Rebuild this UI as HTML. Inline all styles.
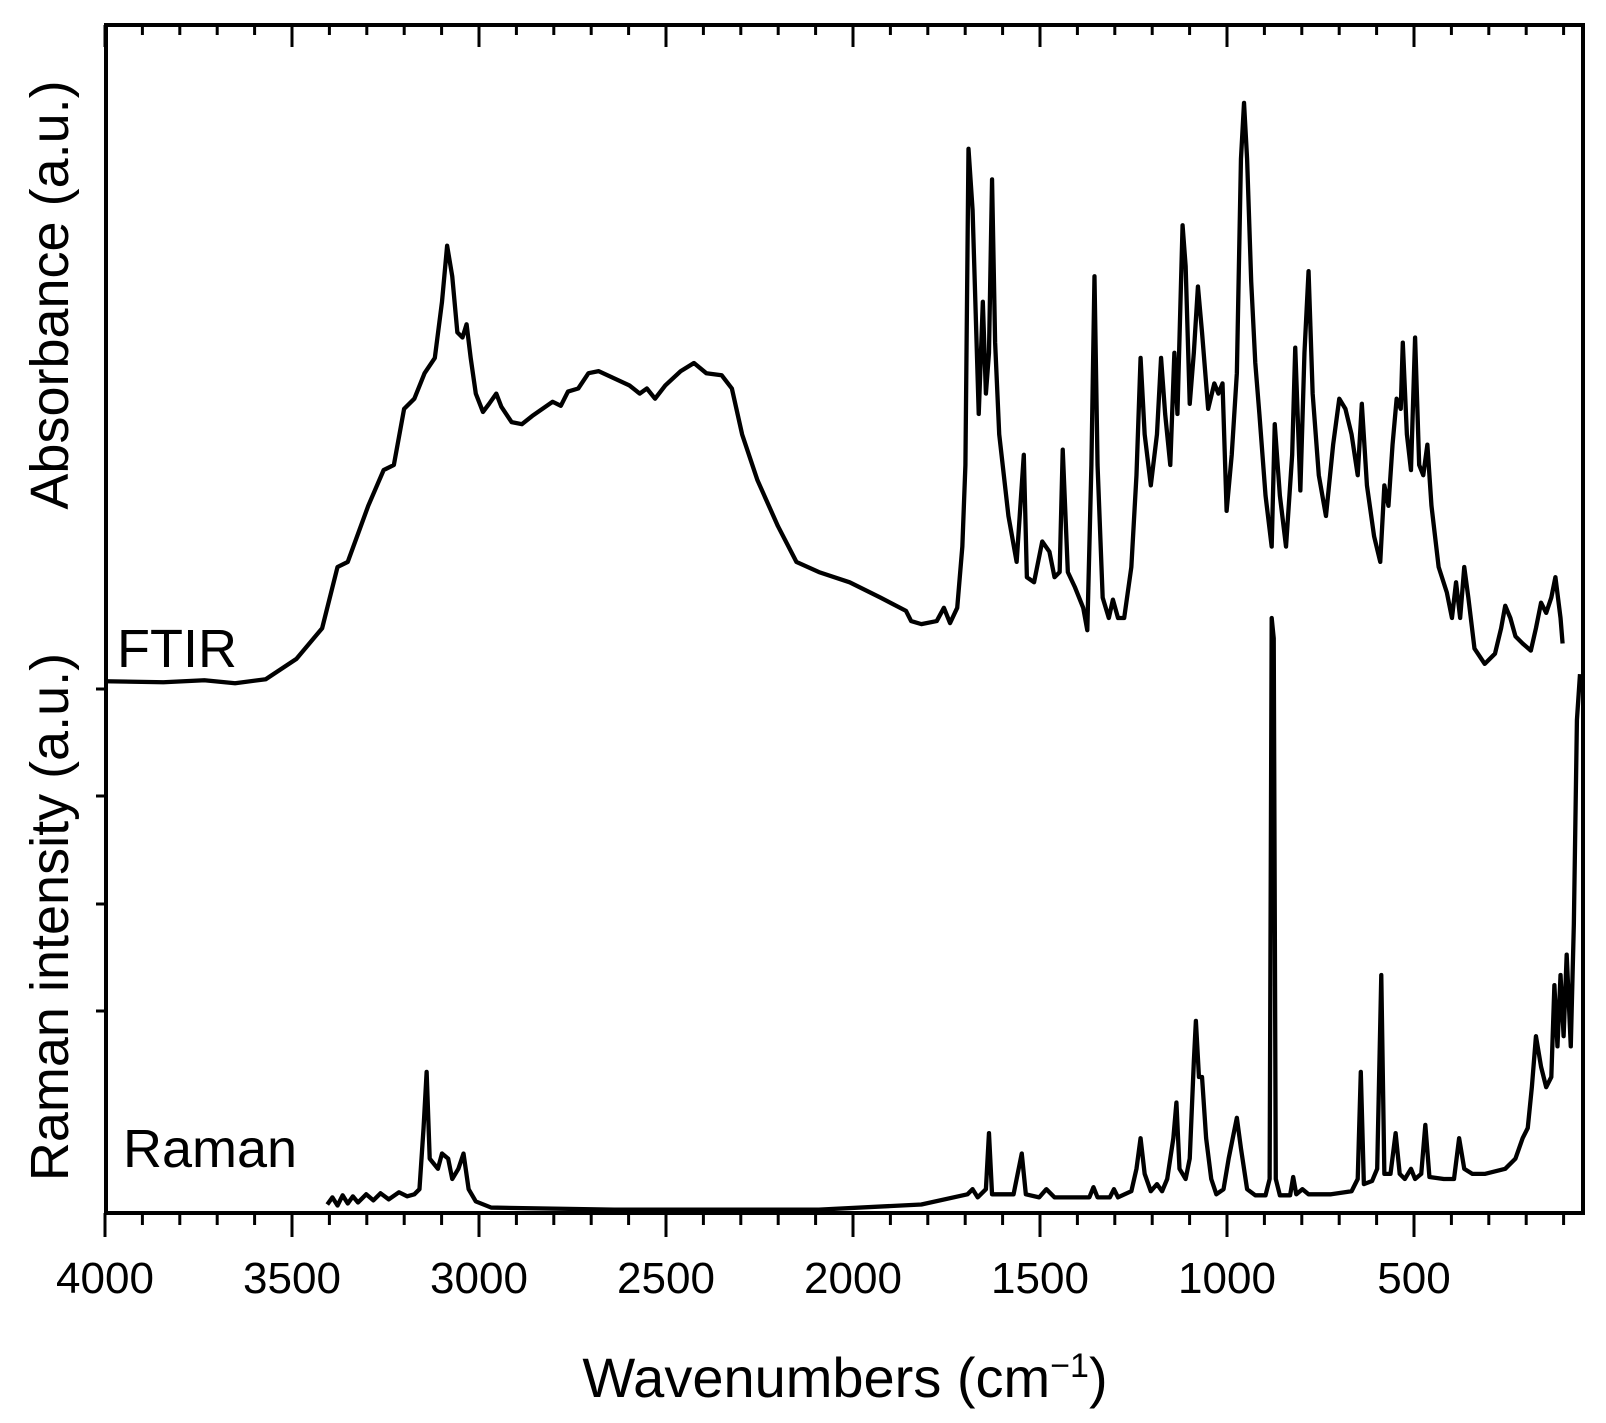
<!DOCTYPE html>
<html><head><meta charset="utf-8"><style>body{margin:0;background:#fff}svg{display:block}</style></head>
<body>
<svg width="1606" height="1423" viewBox="0 0 1606 1423" xmlns="http://www.w3.org/2000/svg" font-family="Liberation Sans, Arial, sans-serif">
<rect width="1606" height="1423" fill="#fff"/>
<g stroke="#000" fill="none">
<line x1="103.5" y1="1219" x2="1583" y2="1219" stroke-width="12" stroke-dasharray="3 34.4"/>
<line x1="103.5" y1="1225" x2="1583" y2="1225" stroke-width="24" stroke-dasharray="3 184"/>
<line x1="103.5" y1="30" x2="1583" y2="30" stroke-width="10" stroke-dasharray="3 34.4"/>
<line x1="103.5" y1="36" x2="1583" y2="36" stroke-width="22" stroke-dasharray="3 184"/>
</g>
<rect x="106" y="25" width="1477" height="1188" fill="none" stroke="#000" stroke-width="4"/>
<g transform="matrix(1.0243 0 0 1.02 -0.5 6)" fill="none" stroke="#000" stroke-width="4.2" stroke-linejoin="round">
<polyline points="103,662 160,663 200,661 230,664 260,660 290,640 315,610 330,550 340,545 360,490 375,455 385,450 395,395 405,385 415,360 425,345 432,290 437,235 442,265 447,320 452,325 456,312 460,345 465,380 472,398 478,390 485,380 490,393 500,408 510,410 520,402 540,388 548,392 555,378 565,375 575,360 585,358 600,365 615,372 625,380 632,375 640,385 650,372 665,358 678,350 690,360 705,362 715,375 725,420 740,465 760,510 778,545 800,555 830,565 860,580 885,593 890,603 900,606 915,603 922,590 928,605 935,590 940,530 943,450 946,140 950,200 953,300 956,400 960,290 963,380 966,340 969,170 972,330 976,420 985,500 993,545 1000,440 1003,560 1010,565 1013,550 1018,525 1025,535 1030,560 1035,555 1038,435 1043,555 1050,570 1058,590 1062,612 1066,450 1069,265 1072,450 1077,580 1083,600 1087,582 1092,600 1098,600 1105,550 1110,460 1114,345 1118,420 1124,470 1130,420 1134,345 1138,400 1143,450 1147,340 1150,400 1155,215 1158,255 1162,390 1166,340 1170,275 1174,320 1180,395 1186,370 1190,380 1194,370 1198,495 1203,440 1208,360 1212,150 1215,95 1218,150 1222,270 1226,350 1230,400 1236,480 1242,530 1245,410 1250,480 1256,530 1262,440 1265,335 1270,475 1274,340 1278,260 1282,380 1288,460 1295,500 1302,430 1308,385 1314,395 1320,420 1326,460 1330,390 1335,470 1342,520 1348,545 1352,470 1356,490 1360,430 1364,385 1368,395 1370,330 1374,420 1378,455 1382,325 1386,450 1390,460 1394,430 1398,490 1405,550 1413,575 1418,600 1422,565 1426,600 1430,550 1434,580 1440,630 1450,645 1460,635 1466,610 1470,588 1475,600 1480,618 1487,625 1495,632 1500,610 1505,585 1510,595 1515,580 1519,560 1524,600 1526,625"/>
<polyline points="320,1175 325,1168 330,1176 335,1166 340,1174 345,1167 350,1173 358,1165 365,1171 372,1164 380,1170 390,1163 398,1167 405,1165 410,1160 414,1100 417,1045 420,1130 428,1140 432,1125 438,1130 442,1150 448,1140 453,1125 458,1160 465,1172 480,1178 600,1180 800,1180 900,1175 945,1165 950,1160 955,1168 963,1160 966,1105 969,1165 990,1165 998,1125 1002,1165 1015,1168 1022,1160 1030,1168 1064,1168 1068,1158 1072,1168 1084,1168 1088,1160 1092,1168 1105,1162 1110,1140 1114,1110 1118,1145 1124,1162 1130,1155 1135,1162 1140,1150 1146,1110 1149,1075 1152,1140 1158,1150 1162,1130 1166,1035 1168,995 1171,1050 1174,1050 1178,1110 1183,1150 1188,1165 1195,1160 1200,1130 1204,1110 1208,1090 1212,1120 1218,1160 1226,1166 1236,1166 1240,1150 1242,600 1244,620 1246,1150 1250,1166 1260,1166 1263,1148 1266,1165 1272,1160 1278,1165 1300,1165 1320,1162 1326,1150 1329,1045 1332,1155 1340,1152 1345,1140 1349,950 1352,1145 1358,1145 1363,1105 1367,1145 1372,1150 1378,1140 1382,1150 1388,1145 1392,1097 1396,1148 1410,1150 1420,1150 1425,1110 1430,1140 1438,1145 1450,1145 1470,1140 1480,1130 1487,1110 1492,1100 1496,1060 1500,1010 1505,1040 1510,1060 1515,1050 1518,960 1521,1020 1524,950 1527,1010 1530,930 1534,1020 1537,900 1540,700 1543,655"/>
</g>
<g font-size="44" text-anchor="middle" fill="#000">
<text x="105" y="1293">4000</text><text x="292" y="1293">3500</text><text x="479" y="1293">3000</text><text x="666" y="1293">2500</text><text x="853" y="1293">2000</text><text x="1040" y="1293">1500</text><text x="1227" y="1293">1000</text><text x="1414" y="1293">500</text>
</g>
<text x="845" y="1397" font-size="56" text-anchor="middle">Wavenumbers (cm<tspan dy="-20" font-size="34">−1</tspan><tspan dy="20">)</tspan></text>
<text transform="translate(68,295) rotate(-90)" font-size="54" text-anchor="middle">Absorbance (a.u.)</text>
<text transform="translate(68,917) rotate(-90)" font-size="54" text-anchor="middle">Raman intensity (a.u.)</text>
<text x="117" y="667" font-size="54">FTIR</text>
<text x="123" y="1167" font-size="54">Raman</text>
<g stroke="#000" stroke-width="3">
<line x1="96" y1="689" x2="106" y2="689"/><line x1="96" y1="796" x2="106" y2="796"/><line x1="96" y1="904" x2="106" y2="904"/><line x1="96" y1="1011" x2="106" y2="1011"/>
</g>
</svg>
</body></html>
